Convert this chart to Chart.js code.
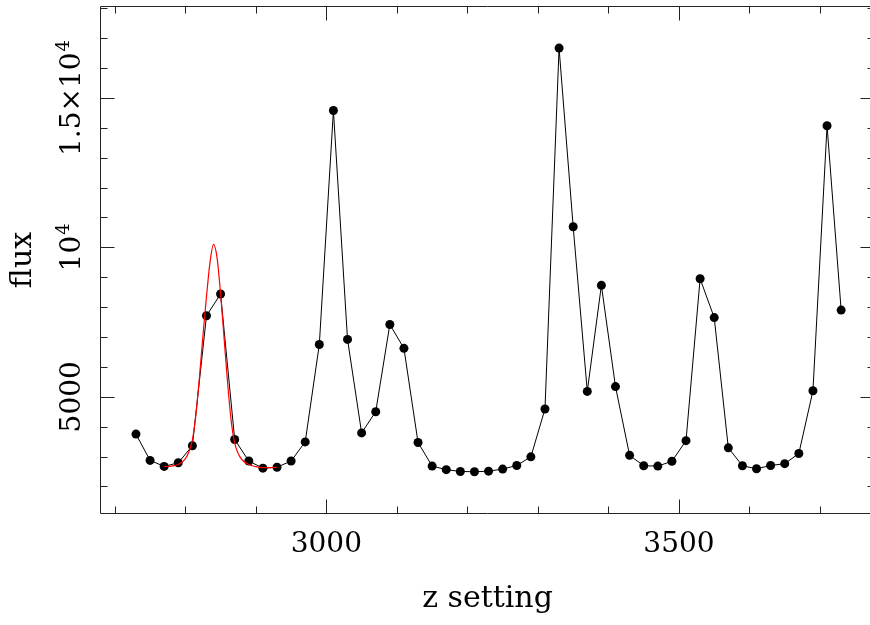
<!DOCTYPE html>
<html>
<head>
<meta charset="utf-8">
<script src="https://cdn.jsdelivr.net/npm/chart.js@4.4.1/dist/chart.umd.min.js"></script>
<style>
  html, body { margin: 0; padding: 0; overflow: hidden; background: #fff; }
  #wrap { width: 880px; height: 625px; }
  canvas { display: block; }
</style>
</head>
<body>
<div id="wrap"><canvas id="fluxChart" width="880" height="625"></canvas></div>
<script>
// scan: z setting vs measured flux
const zSetting = [
  2730, 2750, 2770, 2790, 2810, 2830, 2850, 2870, 2890, 2910,
  2930, 2950, 2970, 2990, 3010, 3030, 3050, 3070, 3090, 3110,
  3130, 3150, 3170, 3190, 3210, 3230, 3250, 3270, 3290, 3310,
  3330, 3350, 3370, 3390, 3410, 3430, 3450, 3470, 3490, 3510,
  3530, 3550, 3570, 3590, 3610, 3630, 3650, 3670, 3690, 3710,
  3730
];
const flux = [
  3750, 2870, 2670, 2790, 3360, 7710, 8440, 3570, 2850, 2610,
  2640, 2850, 3490, 6750, 14580, 6920, 3790, 4500, 7420, 6620,
  3470, 2680, 2560, 2500, 2490, 2510, 2580, 2700, 2990, 4590,
  16670, 10690, 5180, 8730, 5340, 3040, 2690, 2680, 2840, 3530,
  8950, 7650, 3290, 2690, 2590, 2700, 2760, 3100, 5200, 14070,
  7900
];

// fitted profile over the first line
const fitZ = [
  2770, 2780, 2790, 2800, 2805, 2810, 2815, 2820, 2825, 2830,
  2835, 2840, 2845, 2850, 2855, 2860, 2865, 2870, 2875, 2880,
  2890, 2900, 2910, 2920, 2930
];
const fitFlux = [
  2660, 2680, 2730, 2920, 3150, 3550, 4400, 5650, 7050, 8350,
  9500, 10100, 9650, 8450, 6950, 5450, 4200, 3450, 3100, 2900,
  2730, 2660, 2630, 2630, 2640
];

const xLabelValues = [3000, 3500];
const yLabelValues = [5000, 10000, 15000];
const yLabelText = [["5000", ""], ["10", "4"], ["1.5\u00d710", "4"]];

const SERIF = "'DejaVu Serif', serif";

function stepTicks(scale, step) {
  const ticks = [];
  for (let v = Math.ceil(scale.min / step) * step; v <= scale.max; v += step) {
    ticks.push({ value: v });
  }
  scale.ticks = ticks;
}

// box round the plot with inward ticks on every side
const frameTicks = {
  id: "frameTicks",
  beforeDatasetsDraw(chart) {
    const { ctx, chartArea: a, scales } = chart;
    const sx = scales.x, sy = scales.y;
    ctx.save();
    ctx.strokeStyle = "#222";
    ctx.lineWidth = 1;
    ctx.beginPath();
    const L = a.left + 0.5, R = a.right - 0.5, T = a.top + 0.5, B = a.bottom - 0.5;
    ctx.rect(L, T, R - L, B - T);
    sx.ticks.forEach(t => {
      const len = t.value % 500 === 0 ? 14 : 7;
      const px = Math.round(sx.getPixelForValue(t.value)) + 0.5;
      ctx.moveTo(px, B); ctx.lineTo(px, B - len);
      ctx.moveTo(px, T); ctx.lineTo(px, T + len);
    });
    sy.ticks.forEach(t => {
      const len = t.value % 5000 === 0 ? 14 : 7;
      const py = Math.round(sy.getPixelForValue(t.value)) + 0.5;
      ctx.moveTo(L, py); ctx.lineTo(L + len, py);
      ctx.moveTo(R, py); ctx.lineTo(R - len, py);
    });
    ctx.stroke();
    ctx.restore();
  }
};

// rotated y labels, with the exponent raised
const yLabels = {
  id: "yLabels",
  afterDraw(chart) {
    const { ctx } = chart;
    const sy = chart.scales.y;
    ctx.save();
    ctx.fillStyle = "#000";
    ctx.textAlign = "left";
    ctx.textBaseline = "alphabetic";
    yLabelValues.forEach((v, i) => {
      const [main, sup] = yLabelText[i];
      const py = sy.getPixelForValue(v);
      ctx.save();
      ctx.translate(sy.right - 20, py);
      ctx.rotate(-Math.PI / 2);
      ctx.font = "28px " + SERIF;
      const w1 = ctx.measureText(main).width;
      ctx.font = "18px " + SERIF;
      const w2 = sup ? ctx.measureText(sup).width + 1 : 0;
      const x0 = -(w1 + w2) / 2;
      ctx.font = "28px " + SERIF;
      ctx.fillText(main, x0, 0);
      if (sup) {
        ctx.font = "18px " + SERIF;
        ctx.fillText(sup, x0 + w1 + 1, -11);
      }
      ctx.restore();
    });
    ctx.restore();
  }
};

new Chart(document.getElementById("fluxChart"), {
  type: "scatter",
  data: {
    datasets: [
      {
        data: fitZ.map((z, i) => ({ x: z, y: fitFlux[i] })),
        showLine: true,
        borderColor: "#ff0000",
        borderWidth: 1.2,
        pointRadius: 0,
        cubicInterpolationMode: "monotone",
        order: 0
      },
      {
        data: zSetting.map((z, i) => ({ x: z, y: flux[i] })),
        showLine: true,
        borderColor: "#000",
        borderWidth: 1,
        pointRadius: 4.5,
        pointBackgroundColor: "#000",
        pointBorderWidth: 0,
        order: 1
      }
    ]
  },
  options: {
    responsive: false,
    animation: false,
    layout: { padding: { top: 6, right: 5, left: 0, bottom: 0 } },
    plugins: {
      legend: { display: false },
      tooltip: { enabled: false }
    },
    scales: {
      x: {
        type: "linear",
        min: 2679,
        max: 3778,
        grid: { display: false, drawTicks: false },
        border: { display: false },
        ticks: {
          autoSkip: false,
          maxRotation: 0,
          padding: 14,
          color: "#000",
          font: { family: SERIF, size: 28 },
          callback: v => xLabelValues.includes(v) ? String(v) : ""
        },
        afterBuildTicks: s => stepTicks(s, 100),
        title: {
          display: true,
          text: "z setting",
          color: "#000",
          font: { family: SERIF, size: 30 },
          padding: { top: 0, bottom: 8 }
        },
        afterFit(s) { s.height = 111; }
      },
      y: {
        type: "linear",
        min: 1076,
        max: 18079,
        grid: { display: false, drawTicks: false },
        border: { display: false },
        ticks: { display: false },
        afterBuildTicks: s => stepTicks(s, 1000),
        title: {
          display: true,
          text: "flux",
          color: "#000",
          font: { family: SERIF, size: 30 },
          padding: { top: 5, bottom: 0 }
        },
        afterFit(s) { s.width = 100; }
      }
    }
  },
  plugins: [frameTicks, yLabels]
});
</script>
</body>
</html>
